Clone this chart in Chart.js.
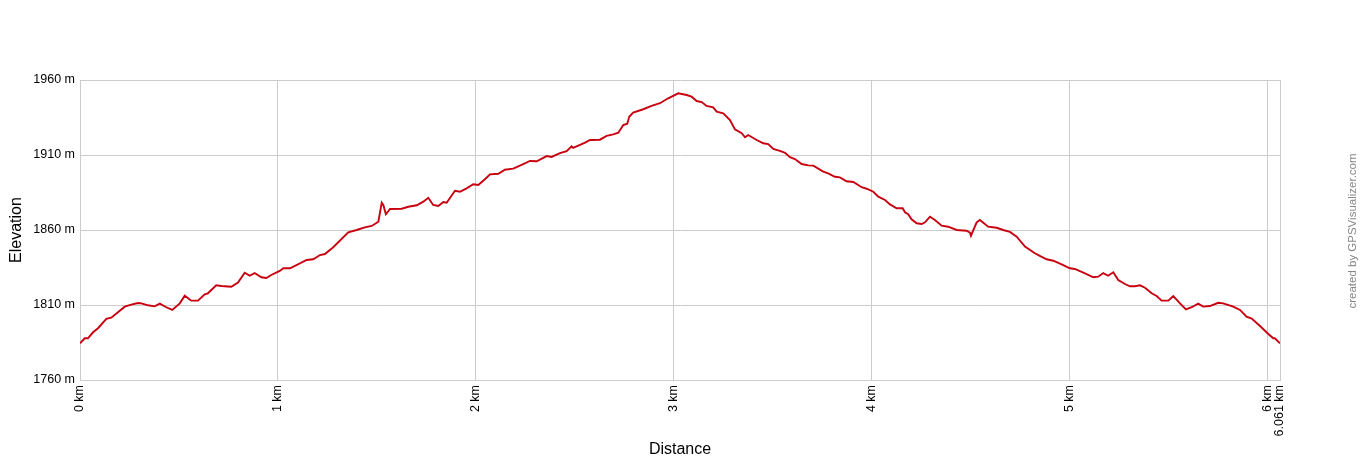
<!DOCTYPE html>
<html>
<head>
<meta charset="utf-8">
<script src="https://cdn.jsdelivr.net/npm/chart.js@4.4.1/dist/chart.umd.min.js"></script>
<style>
  html, body { margin: 0; padding: 0; background: #ffffff; }
  #wrap { width: 1360px; height: 460px; }
</style>
</head>
<body>
<div id="wrap"><canvas id="c" width="1360" height="460"></canvas></div>
<script>
// Distance along track (km)
const distKm = [
  0, 0.024, 0.040, 0.066, 0.091, 0.133, 0.158, 0.201, 0.226, 0.259,
  0.293, 0.310, 0.343, 0.377, 0.403, 0.436, 0.466, 0.504, 0.529, 0.562,
  0.596, 0.630, 0.646, 0.688, 0.714, 0.764, 0.798, 0.832, 0.857, 0.882,
  0.916, 0.941, 0.966, 1.009, 1.027, 1.061, 1.145, 1.178, 1.212, 1.237,
  1.279, 1.355, 1.397, 1.439, 1.473, 1.507, 1.524, 1.532, 1.545, 1.566,
  1.625, 1.658, 1.701, 1.734, 1.759, 1.784, 1.810, 1.835, 1.852, 1.894,
  1.919, 1.953, 1.986, 2.012, 2.045, 2.071, 2.113, 2.146, 2.188, 2.222,
  2.273, 2.307, 2.357, 2.382, 2.424, 2.458, 2.483, 2.491, 2.551, 2.576,
  2.626, 2.660, 2.693, 2.719, 2.744, 2.764, 2.774, 2.794, 2.845, 2.887,
  2.929, 2.971, 3.022, 3.064, 3.089, 3.115, 3.140, 3.165, 3.198, 3.216,
  3.249, 3.283, 3.308, 3.342, 3.359, 3.375, 3.418, 3.451, 3.476, 3.502,
  3.535, 3.561, 3.586, 3.611, 3.645, 3.678, 3.704, 3.754, 3.779, 3.813,
  3.838, 3.872, 3.906, 3.948, 3.973, 4.007, 4.032, 4.066, 4.091, 4.125,
  4.155, 4.167, 4.183, 4.200, 4.226, 4.251, 4.268, 4.293, 4.318, 4.352,
  4.385, 4.428, 4.478, 4.495, 4.500, 4.529, 4.545, 4.587, 4.630, 4.663,
  4.697, 4.731, 4.773, 4.823, 4.848, 4.882, 4.916, 4.958, 5.000, 5.025,
  5.076, 5.118, 5.143, 5.168, 5.193, 5.219, 5.244, 5.278, 5.303, 5.328,
  5.354, 5.379, 5.413, 5.438, 5.463, 5.497, 5.522, 5.556, 5.586, 5.615,
  5.648, 5.673, 5.707, 5.749, 5.774, 5.825, 5.859, 5.892, 5.918, 5.960,
  6.002, 6.027, 6.035, 6.061
];
// Elevation (m)
const elevM = [
  1784.5, 1787.8, 1787.8, 1791.8, 1794.5, 1800.7, 1801.5, 1806.2, 1808.9, 1810.2,
  1811.3, 1811.1, 1809.8, 1809.1, 1810.9, 1808.5, 1806.7, 1811.1, 1816.2, 1812.9,
  1812.9, 1817.1, 1817.8, 1823.1, 1822.7, 1822.2, 1824.9, 1831.5, 1829.5, 1831.3,
  1828.5, 1828.0, 1830.0, 1832.7, 1834.5, 1834.5, 1840.0, 1840.5, 1843.3, 1844.0,
  1848.5, 1858.5, 1860.0, 1861.8, 1862.7, 1865.5, 1878.2, 1876.7, 1870.5, 1874.0,
  1874.2, 1875.5, 1876.5, 1878.9, 1881.5, 1876.7, 1876.0, 1878.7, 1878.2, 1886.2,
  1885.5, 1887.8, 1890.5, 1890.0, 1893.8, 1897.1, 1897.5, 1900.2, 1900.9, 1902.9,
  1906.0, 1905.8, 1909.3, 1908.7, 1911.3, 1912.5, 1915.8, 1914.7, 1918.2, 1920.0,
  1920.2, 1922.7, 1923.8, 1924.9, 1930.0, 1930.9, 1935.5, 1938.2, 1940.5, 1942.7,
  1944.5, 1947.8, 1951.1, 1950.0, 1948.9, 1946.0, 1945.3, 1942.7, 1941.8, 1938.9,
  1937.8, 1933.3, 1927.1, 1924.5, 1921.8, 1923.3, 1920.0, 1917.8, 1917.3, 1914.0,
  1912.7, 1911.5, 1908.5, 1907.3, 1904.0, 1903.1, 1902.9, 1898.9, 1897.8, 1895.5,
  1895.1, 1892.5, 1892.0, 1888.5, 1887.5, 1885.5, 1882.2, 1880.0, 1877.1, 1874.5,
  1874.5, 1871.8, 1870.5, 1867.1, 1864.5, 1864.0, 1865.1, 1868.9, 1866.7, 1862.9,
  1862.2, 1860.0, 1859.5, 1858.2, 1856.2, 1865.1, 1866.7, 1862.2, 1861.5, 1860.0,
  1858.7, 1855.5, 1848.9, 1844.5, 1842.7, 1840.5, 1839.5, 1837.1, 1834.5, 1834.0,
  1831.1, 1828.5, 1828.9, 1831.3, 1829.5, 1831.8, 1826.7, 1824.0, 1822.5, 1822.5,
  1823.1, 1821.5, 1817.8, 1816.0, 1812.9, 1812.9, 1816.0, 1811.1, 1807.1, 1808.5,
  1810.9, 1808.9, 1809.3, 1811.5, 1811.1, 1808.9, 1806.7, 1802.2, 1800.9, 1796.0,
  1790.7, 1787.8, 1787.8, 1784.5
];
// Tick values
const xTickKm = [0, 1, 2, 3, 4, 5, 6, 6.061];
const yTickM = [1760, 1810, 1860, 1910, 1960];

const points = distKm.map((d, i) => ({ x: d, y: elevM[i] }));

const creditPlugin = {
  id: 'credit',
  afterDraw(chart) {
    const ctx = chart.ctx;
    ctx.save();
    ctx.translate(1353, 231);
    ctx.rotate(-Math.PI / 2);
    ctx.font = '11.5px "Liberation Sans", Arial, sans-serif';
    ctx.fillStyle = '#888888';
    ctx.textAlign = 'center';
    ctx.textBaseline = 'middle';
    ctx.fillText('created by GPSVisualizer.com', 0, 0);
    ctx.restore();
  }
};

const FONT = '"Liberation Sans", Arial, sans-serif';

new Chart(document.getElementById('c'), {
  type: 'scatter',
  data: {
    datasets: [{
      data: points,
      showLine: true,
      borderColor: '#c8000f',
      borderWidth: 1.9,
      pointRadius: 0,
      tension: 0,
      fill: false
    }]
  },
  options: {
    responsive: false,
    animation: false,
    layout: { padding: { top: 80, right: 80, left: 0, bottom: 0 } },
    plugins: { legend: { display: false }, tooltip: { enabled: false } },
    scales: {
      x: {
        type: 'linear',
        min: 0,
        max: 6.061,
        afterBuildTicks(scale) { scale.ticks = xTickKm.map(v => ({ value: v })); },
        afterFit(scale) { scale.height = 80; },
        grid: { color: '#cccccc', lineWidth: 1, drawTicks: false },
        border: { color: '#cccccc' },
        ticks: {
          autoSkip: false,
          minRotation: 90,
          maxRotation: 90,
          padding: 5,
          color: '#000000',
          font: { family: FONT, size: 12.5 },
          callback: (v) => v + ' km'
        },
        title: {
          display: true,
          text: 'Distance',
          color: '#000000',
          font: { family: FONT, size: 16 },
          padding: { top: 0, bottom: 1 }
        }
      },
      y: {
        min: 1760,
        max: 1960,
        afterBuildTicks(scale) { scale.ticks = yTickM.map(v => ({ value: v })); },
        afterFit(scale) { scale.width = 80; },
        grid: { color: '#cccccc', lineWidth: 1, drawTicks: false },
        border: { color: '#cccccc' },
        ticks: {
          padding: 5,
          color: '#000000',
          font: { family: FONT, size: 12.5 },
          callback: (v) => v + ' m'
        },
        title: {
          display: true,
          text: 'Elevation',
          color: '#000000',
          font: { family: FONT, size: 16 },
          padding: { top: 7, bottom: 0 }
        }
      }
    }
  },
  plugins: [creditPlugin]
});
</script>
</body>
</html>
